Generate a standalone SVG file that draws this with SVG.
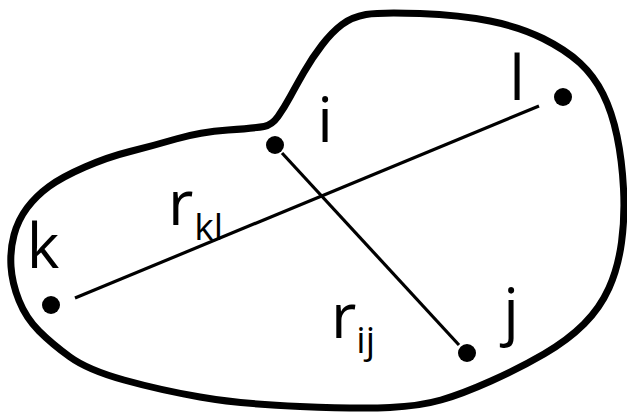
<svg xmlns="http://www.w3.org/2000/svg" width="627" height="419" viewBox="0 0 627 419">
  <style>
    .outline { fill: none; stroke: #000; stroke-width: 7; stroke-linejoin: round; }
    .edge { stroke: #000; stroke-width: 3.2; fill: none; }
    .dot { fill: #000; }
    .lbl { font-family: "Open Sans", "Liberation Sans", sans-serif; font-size: 62px; fill: #000; }
    .sub { font-size: 37px; }
  </style>
  <rect width="627" height="419" fill="#fff"/>
  <g id="region">
    <path class="outline" d="M264,126.5 Q272,125 278,116.5 Q284,108 290,97 Q296,86 304,72 Q312,58 322,45 Q332,32 342,24.5 Q352,17 366,14.5 Q380,12 420,13.5 Q460,15 490,21 Q520,27 543,38.5 Q566,50 580,63 Q594,76 603,94 Q612,112 617,136 Q622,160 623.5,188.5 Q625,217 621.5,242.5 Q618,268 609,288 Q600,308 584,324 Q568,340 544,354 Q520,368 491,381 Q462,394 441,400 Q420,406 390,407.5 Q360,409 300,406.5 Q240,404 200,397 Q160,390 124,380 Q88,370 70,357 Q52,344 39,331 Q26,318 19,300.5 Q12,283 11,266.5 Q10,250 14,235 Q18,220 27,208 Q36,196 49,186.5 Q62,177 85,167 Q108,157 130,151.5 Q152,146 176,139 Q200,132 228,130 Q256,128 264,126.5 Z"/>
  </g>
  <g id="connectors">
    <line class="edge" x1="75" y1="298" x2="539" y2="106"/>
    <line class="edge" x1="282" y1="153" x2="459" y2="345"/>
    <text class="lbl" x="168" y="225">r<tspan class="sub" dx="1" dy="15">kl</tspan></text>
    <text class="lbl" x="331" y="338">r<tspan class="sub" dx="0" dy="15">ij</tspan></text>
  </g>
  <g id="node-i">
    <circle class="dot" cx="275" cy="145" r="9"/>
    <text class="lbl" x="325" y="142" text-anchor="middle">i</text>
  </g>
  <g id="node-j">
    <circle class="dot" cx="467" cy="353" r="9"/>
    <text class="lbl" x="511" y="333" text-anchor="middle">j</text>
  </g>
  <g id="node-k">
    <circle class="dot" cx="51" cy="305" r="9"/>
    <text class="lbl" x="43" y="268" text-anchor="middle">k</text>
  </g>
  <g id="node-l">
    <circle class="dot" cx="563" cy="97" r="9"/>
    <text class="lbl" x="517" y="100" text-anchor="middle">l</text>
  </g>
</svg>
